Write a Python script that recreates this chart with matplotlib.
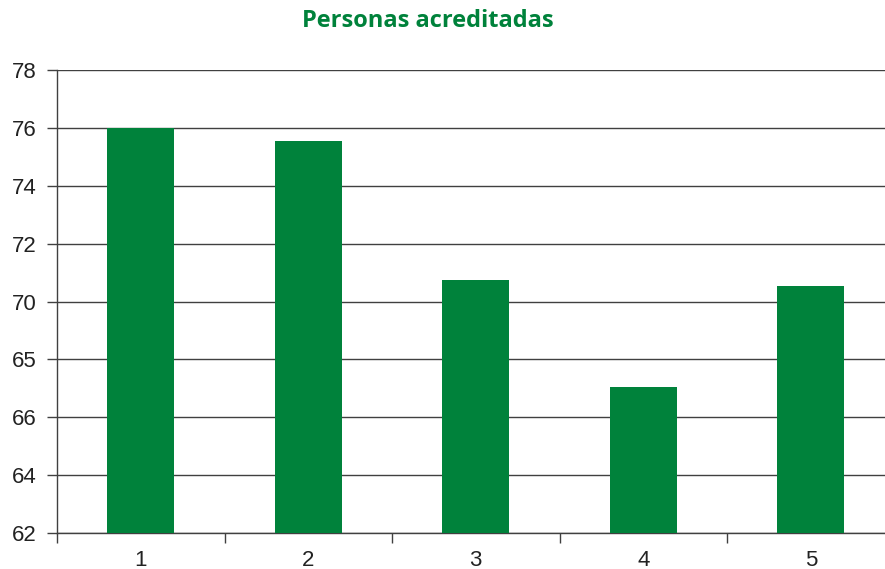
import matplotlib.pyplot as plt

# Data
categories = ['1', '2', '3', '4', '5']
values = [76.0, 75.55, 70.73, 67.03, 70.55]
ytick_values = [62, 64, 66, 68, 70, 72, 74, 76, 78]
ytick_labels = ['62', '64', '66', '65', '70', '72', '74', '76', '78']  # as printed in the original

green = '#00823b'
grid_col = '#404040'

plt.rcParams['font.family'] = ['Liberation Sans', 'DejaVu Sans']

fig = plt.figure(figsize=(8.85, 5.69), dpi=100)
ax = fig.add_axes([57 / 885, 1 - 533 / 569, 837.5 / 885, 463 / 569])

x = list(range(1, len(categories) + 1))
ax.bar(x, [v - 62 for v in values], bottom=62, width=0.4, color=green, zorder=3)

ax.set_xlim(0.5, 5.5)
ax.set_ylim(62, 78)
ax.set_yticks(ytick_values)
ax.set_yticklabels(ytick_labels, fontsize=16, color='#222222')
ax.set_xticks(x)
ax.set_xticklabels(categories, fontsize=16, color='#222222')
ax.set_xticks([0.5 + i for i in range(6)], minor=True)
ax.tick_params(axis='x', which='major', length=0, pad=12)
ax.tick_params(axis='x', which='minor', length=7.5, width=1, color=grid_col, direction='out')
ax.tick_params(axis='y', length=7.5, width=1, color=grid_col, pad=7)

ax.yaxis.grid(True, color=grid_col, linewidth=1, zorder=1)
for s in ['top', 'right']:
    ax.spines[s].set_visible(False)
for s in ['left', 'bottom']:
    ax.spines[s].set_color(grid_col)
    ax.spines[s].set_linewidth(1)

fig.text(428 / 885, 1 - 21 / 569, 'Personas acreditadas', ha='center', va='center',
         fontsize=17, fontweight='bold', color=green, family=['Open Sans', 'DejaVu Sans'])

fig.savefig('out.png', dpi=100)
